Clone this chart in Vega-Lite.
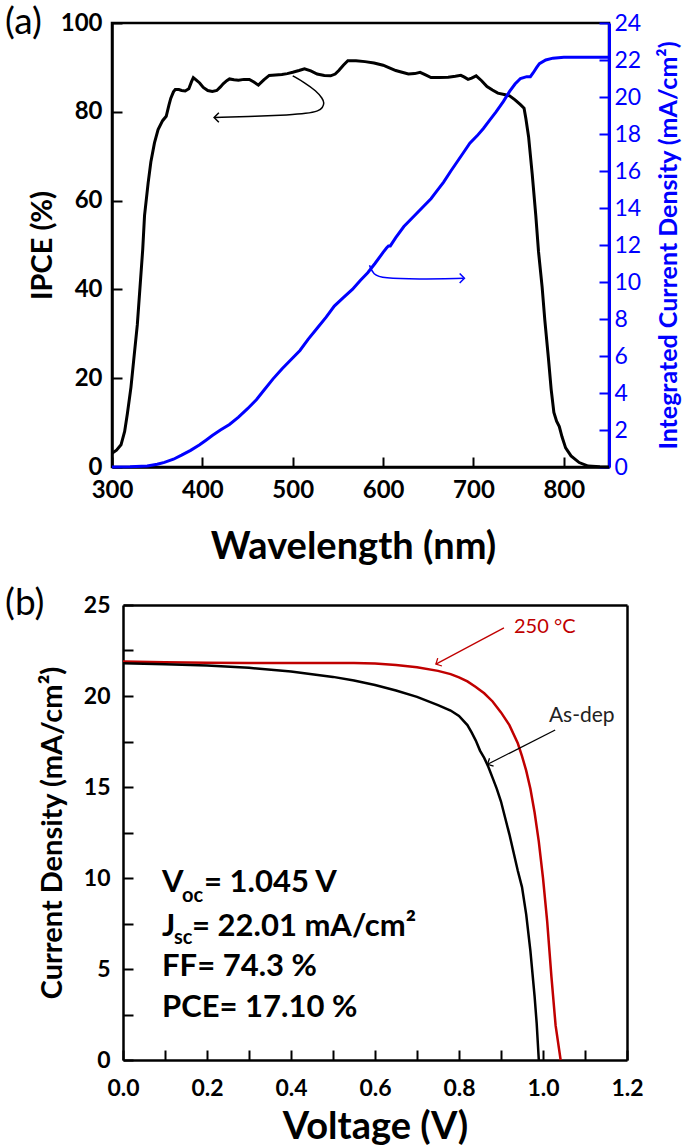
{
  "$schema": "https://vega.github.io/schema/vega-lite/v6.json",
  "padding": {"left": 3, "top": 2, "right": 0, "bottom": 0},
  "spacing": 17,
  "config": {
    "font": "Lato",
    "view": {"stroke": "black", "strokeWidth": 2.5},
    "axis": {
      "grid": false, "domainColor": "black", "domainWidth": 2.5,
      "tickColor": "black", "tickWidth": 2, "tickSize": -10,
      "labelFont": "Lato", "labelFontWeight": "bold", "labelColor": "black", "labelFontSize": 23,
      "labelFlush": false, "labelOverlap": false, "labelBound": false,
      "titleFont": "Lato", "titleFontWeight": "bold", "titleColor": "black"
    },
    "title": {"font": "Lato", "fontWeight": "normal", "fontSize": 37, "anchor": "start", "frame": "group", "color": "black"}
  },
  "datasets": {
    "ipce": [
      {"nm":300,"v":3.1},{"nm":305,"v":3.8},{"nm":310,"v":5},{"nm":314,"v":8},{"nm":317,"v":12},{"nm":321,"v":18},{"nm":324,"v":24},{"nm":328,"v":32},{"nm":331,"v":40.5},{"nm":334,"v":49},{"nm":336,"v":56.6},{"nm":340,"v":64},{"nm":343,"v":68.7},{"nm":347,"v":73},{"nm":351,"v":76},{"nm":356,"v":78},{"nm":360,"v":79},{"nm":363,"v":81.5},{"nm":365,"v":83},{"nm":368,"v":84.5},{"nm":370,"v":85},{"nm":374,"v":85},{"nm":377,"v":84.8},{"nm":381,"v":84.7},{"nm":385,"v":85.2},{"nm":388,"v":86.8},{"nm":390,"v":87.7},{"nm":393,"v":87.2},{"nm":397,"v":86.5},{"nm":401,"v":85.5},{"nm":406,"v":84.8},{"nm":411,"v":84.6},{"nm":416,"v":84.8},{"nm":420,"v":85.6},{"nm":423,"v":86.3},{"nm":427,"v":87},{"nm":430,"v":87.4},{"nm":435,"v":87.2},{"nm":440,"v":87.1},{"nm":446,"v":87.3},{"nm":452,"v":87.3},{"nm":457,"v":86.7},{"nm":462,"v":86},{"nm":468,"v":87.2},{"nm":474,"v":88.2},{"nm":481,"v":88.3},{"nm":488,"v":88.4},{"nm":494,"v":88.6},{"nm":500,"v":88.9},{"nm":507,"v":89.3},{"nm":513,"v":89.7},{"nm":520,"v":89.2},{"nm":527,"v":88.5},{"nm":535,"v":88.2},{"nm":542,"v":88.1},{"nm":547,"v":88.5},{"nm":551,"v":89.3},{"nm":556,"v":90.5},{"nm":561,"v":91.5},{"nm":570,"v":91.5},{"nm":580,"v":91.3},{"nm":590,"v":91},{"nm":600,"v":90.5},{"nm":607,"v":89.9},{"nm":614,"v":89.3},{"nm":621,"v":88.9},{"nm":628,"v":88.5},{"nm":635,"v":88.6},{"nm":641,"v":88.9},{"nm":647,"v":88.3},{"nm":653,"v":87.7},{"nm":662,"v":87.7},{"nm":672,"v":87.8},{"nm":680,"v":88},{"nm":686,"v":88.2},{"nm":690,"v":87.8},{"nm":694,"v":87.3},{"nm":698,"v":87.6},{"nm":703,"v":88.1},{"nm":709,"v":87},{"nm":715,"v":85.7},{"nm":721,"v":84.9},{"nm":727,"v":84.2},{"nm":734,"v":83.9},{"nm":740,"v":83.6},{"nm":746,"v":82.7},{"nm":752,"v":81.6},{"nm":756,"v":80.8},{"nm":758,"v":78.5},{"nm":761,"v":74.4},{"nm":765,"v":66},{"nm":769,"v":56.6},{"nm":772,"v":48.5},{"nm":776,"v":40.5},{"nm":779,"v":33},{"nm":783,"v":24.4},{"nm":786,"v":17.5},{"nm":789,"v":12.3},{"nm":792,"v":10.3},{"nm":795,"v":9.1},{"nm":798,"v":6.8},{"nm":802,"v":4.3},{"nm":808,"v":2.5},{"nm":817,"v":1},{"nm":827,"v":0.2},{"nm":840,"v":0.05},{"nm":850,"v":0}
    ],
    "jint": [
      {"nm":300,"j":0},{"nm":320,"j":0.01},{"nm":339,"j":0.06},{"nm":350,"j":0.15},{"nm":358,"j":0.25},{"nm":368,"j":0.42},{"nm":377,"j":0.64},{"nm":387,"j":0.9},{"nm":397,"j":1.2},{"nm":404,"j":1.45},{"nm":411,"j":1.7},{"nm":420,"j":2.0},{"nm":430,"j":2.3},{"nm":440,"j":2.7},{"nm":450,"j":3.15},{"nm":460,"j":3.65},{"nm":469,"j":4.2},{"nm":478,"j":4.75},{"nm":488,"j":5.3},{"nm":498,"j":5.8},{"nm":508,"j":6.3},{"nm":517,"j":6.9},{"nm":527,"j":7.5},{"nm":537,"j":8.1},{"nm":546,"j":8.7},{"nm":556,"j":9.15},{"nm":566,"j":9.6},{"nm":575,"j":10.1},{"nm":583,"j":10.5},{"nm":591,"j":11.0},{"nm":600,"j":11.6},{"nm":604,"j":11.85},{"nm":606,"j":11.95},{"nm":608,"j":11.95},{"nm":614,"j":12.4},{"nm":623,"j":13.0},{"nm":633,"j":13.5},{"nm":643,"j":14.0},{"nm":653,"j":14.5},{"nm":660,"j":14.95},{"nm":667,"j":15.4},{"nm":675,"j":16.0},{"nm":682,"j":16.5},{"nm":689,"j":17.0},{"nm":696,"j":17.5},{"nm":704,"j":17.9},{"nm":711,"j":18.3},{"nm":718,"j":18.75},{"nm":725,"j":19.2},{"nm":733,"j":19.75},{"nm":740,"j":20.3},{"nm":746,"j":20.7},{"nm":752,"j":21.0},{"nm":759,"j":21.1},{"nm":763,"j":21.1},{"nm":766,"j":21.3},{"nm":770,"j":21.6},{"nm":773,"j":21.8},{"nm":780,"j":22.0},{"nm":788,"j":22.1},{"nm":800,"j":22.15},{"nm":825,"j":22.15},{"nm":850,"j":22.15}
    ],
    "arrowA": [
      {"i":0,"nm":500,"v":88.1},{"i":1,"nm":513,"v":86.6},{"i":2,"nm":526,"v":84.7},{"i":3,"nm":533,"v":83},{"i":4,"nm":535,"v":82},{"i":5,"nm":533,"v":80.9},{"i":6,"nm":529,"v":80.2},{"i":7,"nm":515,"v":79.6},{"i":8,"nm":496,"v":79.3},{"i":9,"nm":460,"v":79.0},{"i":10,"nm":414,"v":78.7}
    ],
    "arrowB": [
      {"i":0,"nm":585,"j":10.9},{"i":1,"nm":589,"j":10.4},{"i":2,"nm":600,"j":10.2},{"i":3,"nm":638,"j":10.15},{"i":4,"nm":689,"j":10.2}
    ],
    "jv": [
      {"sample":"250 °C","V":0,"J":21.9},{"sample":"250 °C","V":0.1,"J":21.86},{"sample":"250 °C","V":0.2,"J":21.83},{"sample":"250 °C","V":0.3,"J":21.82},{"sample":"250 °C","V":0.4,"J":21.82},{"sample":"250 °C","V":0.5,"J":21.82},{"sample":"250 °C","V":0.55,"J":21.81},{"sample":"250 °C","V":0.6,"J":21.78},{"sample":"250 °C","V":0.65,"J":21.7},{"sample":"250 °C","V":0.7,"J":21.58},{"sample":"250 °C","V":0.75,"J":21.38},{"sample":"250 °C","V":0.78,"J":21.2},{"sample":"250 °C","V":0.8,"J":21.02},{"sample":"250 °C","V":0.82,"J":20.8},{"sample":"250 °C","V":0.84,"J":20.5},{"sample":"250 °C","V":0.86,"J":20.15},{"sample":"250 °C","V":0.88,"J":19.7},{"sample":"250 °C","V":0.9,"J":19.1},{"sample":"250 °C","V":0.92,"J":18.4},{"sample":"250 °C","V":0.94,"J":17.4},{"sample":"250 °C","V":0.95,"J":16.7},{"sample":"250 °C","V":0.96,"J":15.9},{"sample":"250 °C","V":0.97,"J":14.9},{"sample":"250 °C","V":0.98,"J":13.6},{"sample":"250 °C","V":0.99,"J":12.0},{"sample":"250 °C","V":1.0,"J":10.0},{"sample":"250 °C","V":1.01,"J":7.6},{"sample":"250 °C","V":1.02,"J":4.6},{"sample":"250 °C","V":1.03,"J":1.9},{"sample":"250 °C","V":1.042,"J":0},
      {"sample":"As-dep","V":0,"J":21.8},{"sample":"As-dep","V":0.1,"J":21.75},{"sample":"As-dep","V":0.2,"J":21.68},{"sample":"As-dep","V":0.3,"J":21.55},{"sample":"As-dep","V":0.4,"J":21.35},{"sample":"As-dep","V":0.45,"J":21.2},{"sample":"As-dep","V":0.5,"J":21.05},{"sample":"As-dep","V":0.55,"J":20.85},{"sample":"As-dep","V":0.6,"J":20.6},{"sample":"As-dep","V":0.65,"J":20.3},{"sample":"As-dep","V":0.7,"J":19.95},{"sample":"As-dep","V":0.75,"J":19.5},{"sample":"As-dep","V":0.78,"J":19.2},{"sample":"As-dep","V":0.8,"J":18.9},{"sample":"As-dep","V":0.82,"J":18.4},{"sample":"As-dep","V":0.83,"J":18.0},{"sample":"As-dep","V":0.84,"J":17.55},{"sample":"As-dep","V":0.85,"J":17.0},{"sample":"As-dep","V":0.86,"J":16.6},{"sample":"As-dep","V":0.87,"J":16.1},{"sample":"As-dep","V":0.88,"J":15.5},{"sample":"As-dep","V":0.89,"J":14.9},{"sample":"As-dep","V":0.9,"J":14.2},{"sample":"As-dep","V":0.91,"J":13.3},{"sample":"As-dep","V":0.92,"J":12.4},{"sample":"As-dep","V":0.93,"J":11.4},{"sample":"As-dep","V":0.94,"J":10.4},{"sample":"As-dep","V":0.95,"J":9.5},{"sample":"As-dep","V":0.96,"J":8.0},{"sample":"As-dep","V":0.97,"J":6.0},{"sample":"As-dep","V":0.98,"J":3.5},{"sample":"As-dep","V":0.985,"J":2.0},{"sample":"As-dep","V":0.99,"J":0}
    ]
  },
  "vconcat": [
    {
      "width": 497,
      "height": 444,
      "title": {"text": "(a)", "dx": -107, "offset": -31},
      "layer": [
        {
          "encoding": {
            "x": {"field": "nm", "type": "quantitative", "scale": {"domain": [300, 850], "nice": false, "zero": false},
                  "axis": {"title": "Wavelength (nm)", "titleX": 241, "values": [300, 400, 500, 600, 700, 800], "labelFontSize": 24, "labelPadding": 21, "titleFontSize": 38, "titlePadding": 26}},
            "y": {"field": "v", "type": "quantitative", "scale": {"domain": [0, 100], "nice": false},
                  "axis": {"title": "IPCE (%)", "values": [0, 20, 40, 60, 80, 100], "labelFontSize": 24, "labelPadding": 20, "titleFontSize": 29, "titlePadding": 3}}
          },
          "layer": [
            {"data": {"name": "ipce"}, "mark": {"type": "line", "color": "black", "strokeWidth": 3}},
            {"data": {"name": "arrowA"}, "mark": {"type": "line", "color": "black", "strokeWidth": 1.5, "interpolate": "basis"}, "encoding": {"order": {"field": "i", "type": "quantitative"}}},
            {"data": {"values": [{"nm": 413, "v": 78.7}]}, "mark": {"type": "point", "shape": "M-1,-1L0,0L-1,1", "angle": 180, "filled": false, "stroke": "black", "strokeWidth": 1.5, "size": 90, "opacity": 1}}
          ]
        },
        {
          "encoding": {
            "x": {"field": "nm", "type": "quantitative", "scale": {"domain": [300, 850], "nice": false, "zero": false}},
            "y": {"field": "j", "type": "quantitative", "scale": {"domain": [0, 24], "nice": false},
                  "axis": {"orient": "right", "title": "Integrated Current Density (mA/cm²)", "titleAngle": 270, "titleBaseline": "top", "values": [0,2,4,6,8,10,12,14,16,18,20,22,24],
                           "domainColor": "#0000ff", "domainWidth": 3, "tickColor": "#0000ff", "labelColor": "#0000ff", "labelFontWeight": "normal", "labelFontSize": 23, "labelPadding": 15,
                           "titleColor": "#0000ff", "titleFontSize": 25, "titlePadding": 16}}
          },
          "layer": [
            {"data": {"name": "jint"}, "mark": {"type": "line", "color": "#0000ff", "strokeWidth": 3}},
            {"data": {"name": "arrowB"}, "mark": {"type": "line", "color": "#0000ff", "strokeWidth": 1.5, "interpolate": "basis"}, "encoding": {"order": {"field": "i", "type": "quantitative"}}},
            {"data": {"values": [{"nm": 690, "j": 10.2}]}, "mark": {"type": "point", "shape": "M-1,-1L0,0L-1,1", "angle": 0, "filled": false, "stroke": "#0000ff", "strokeWidth": 1.5, "size": 90, "opacity": 1}}
          ]
        }
      ],
      "resolve": {"scale": {"y": "independent"}, "axis": {"y": "independent"}}
    },
    {
      "width": 515,
      "height": 455,
      "view": {"stroke": null},
      "title": {"text": "(b)", "dx": -107, "offset": -29},
      "layer": [
        {
          "encoding": {
            "x": {"field": "V", "type": "quantitative", "scale": {"domain": [0, 1.2], "range": [11, 515], "nice": false, "zero": false},
                  "axis": {"title": "Voltage (V)", "values": [0,0.1,0.2,0.3,0.4,0.5,0.6,0.7,0.8,0.9,1.0,1.1,1.2],
                           "labelExpr": "round(datum.value*10) % 2 == 0 ? format(datum.value, '.1f') : ''",
                           "labelFontSize": 23, "labelPadding": 27, "titleFontSize": 38, "titlePadding": 8}},
            "y": {"field": "J", "type": "quantitative", "scale": {"domain": [0, 25], "nice": false},
                  "axis": {"title": "Current Density (mA/cm²)", "offset": -11, "values": [0,2.5,5,7.5,10,12.5,15,17.5,20,22.5,25],
                           "labelExpr": "datum.value % 5 == 0 ? format(datum.value, 'd') : ''",
                           "labelFontSize": 23, "labelPadding": 23, "titleFontSize": 29, "titlePadding": 16}}
          },
          "layer": [
            {"data": {"name": "jv"}, "mark": {"type": "line", "strokeWidth": 2.5},
             "encoding": {"color": {"field": "sample", "type": "nominal", "scale": {"domain": ["As-dep", "250 °C"], "range": ["black", "#c00000"]}, "legend": null}}},
            {"data": {"values": [{"V": 0.907, "J": 23.74}, {"V": 0.745, "J": 21.75}]}, "mark": {"type": "line", "color": "#c00000", "strokeWidth": 1.3}},
            {"data": {"values": [{"V": 0.745, "J": 21.75}]}, "mark": {"type": "point", "shape": "M-1,-1L0,0L-1,1", "angle": 152, "filled": false, "stroke": "#c00000", "strokeWidth": 1.3, "size": 80, "opacity": 1}},
            {"data": {"values": [{"V": 1.029, "J": 18.13}, {"V": 0.868, "J": 16.25}]}, "mark": {"type": "line", "color": "black", "strokeWidth": 1.3}},
            {"data": {"values": [{"V": 0.868, "J": 16.25}]}, "mark": {"type": "point", "shape": "M-1,-1L0,0L-1,1", "angle": 153, "filled": false, "stroke": "black", "strokeWidth": 1.3, "size": 80, "opacity": 1}},
            {"data": {"values": [{"V": 0.931, "J": 23.8, "t": "250 °C"}]}, "mark": {"type": "text", "align": "left", "baseline": "middle", "font": "Lato", "fontSize": 20, "color": "#c00000"}, "encoding": {"text": {"field": "t"}}},
            {"data": {"values": [{"V": 1.014, "J": 18.9, "t": "As-dep"}]}, "mark": {"type": "text", "align": "left", "baseline": "middle", "font": "Lato", "fontSize": 21, "color": "#222222"}, "encoding": {"text": {"field": "t"}}},
            {"data": {"values": [{"V": 0.093, "J": 9.73, "t": "V"}, {"V": 0.093, "J": 7.31, "t": "J"}, {"V": 0.093, "J": 5.11, "t": "FF= 74.3 %"}, {"V": 0.093, "J": 2.86, "t": "PCE= 17.10 %"}]},
             "mark": {"type": "text", "align": "left", "baseline": "middle", "font": "Lato", "fontWeight": "bold", "fontSize": 31, "color": "black"}, "encoding": {"text": {"field": "t"}}},
            {"data": {"values": [{"V": 0.093, "J": 9.73, "t": "oc"}]}, "mark": {"type": "text", "align": "left", "baseline": "middle", "dx": 20, "dy": 13, "font": "Lato", "fontWeight": "bold", "fontSize": 20, "color": "black"}, "encoding": {"text": {"field": "t"}}},
            {"data": {"values": [{"V": 0.093, "J": 7.31, "t": "sc"}]}, "mark": {"type": "text", "align": "left", "baseline": "middle", "dx": 12, "dy": 11, "font": "Lato", "fontWeight": "bold", "fontSize": 20, "color": "black"}, "encoding": {"text": {"field": "t"}}},
            {"data": {"values": [{"V": 0.093, "J": 9.73, "t": "= 1.045 V"}]}, "mark": {"type": "text", "align": "left", "baseline": "middle", "dx": 42, "font": "Lato", "fontWeight": "bold", "fontSize": 31, "color": "black"}, "encoding": {"text": {"field": "t"}}},
            {"data": {"values": [{"V": 0.093, "J": 7.31, "t": "= 22.01 mA/cm²"}]}, "mark": {"type": "text", "align": "left", "baseline": "middle", "dx": 30, "font": "Lato", "fontWeight": "bold", "fontSize": 31, "color": "black"}, "encoding": {"text": {"field": "t"}}}
          ]
        },
        {
          "data": {"name": "jv"},
          "mark": {"type": "point", "opacity": 0},
          "encoding": {
            "x": {"field": "V", "type": "quantitative", "axis": {"orient": "top", "labels": false, "ticks": false, "title": null}},
            "y": {"field": "J", "type": "quantitative", "axis": {"orient": "right", "labels": false, "ticks": false, "title": null}}
          }
        }
      ],
      "resolve": {"axis": {"x": "independent", "y": "independent"}}
    }
  ]
}
